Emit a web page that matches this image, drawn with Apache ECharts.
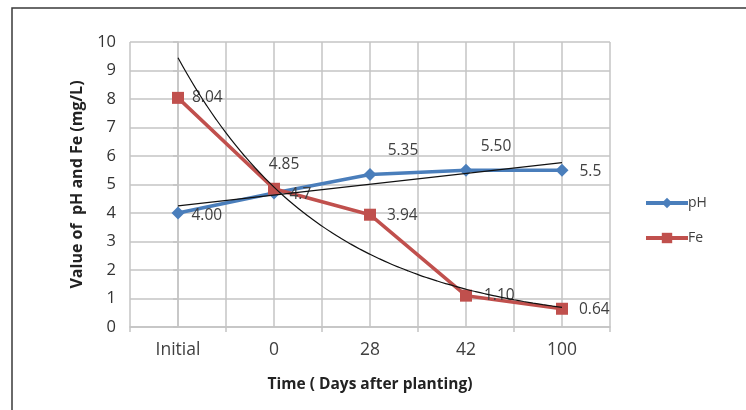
<!DOCTYPE html>
<html>
<head>
<meta charset="utf-8">
<script src="https://cdn.jsdelivr.net/npm/echarts@6/dist/echarts.min.js"></script>
<style>html,body{margin:0;padding:0;background:#fff}#c{width:746px;height:410px}</style>
</head>
<body>
<div id="c"></div>
<script>
const categories = ['Initial', '0', '28', '42', '100'];
const phValues = [4.00, 4.7, 5.35, 5.50, 5.5];
const feValues = [8.04, 4.85, 3.94, 1.10, 0.64];
const phLabels = ['4.00', '4.7', '5.35', '5.50', '5.5'];
const feLabels = ['8.04', '4.85', '3.94', '1.10', '0.64'];
const yTicks = [0, 1, 2, 3, 4, 5, 6, 7, 8, 9, 10];

// Excel-style trendlines fitted to the data: linear for pH, exponential for Fe
function linearFit(vals) {
  const n = vals.length, xs = vals.map((_, i) => i + 1);
  const mx = xs.reduce((a, b) => a + b) / n, my = vals.reduce((a, b) => a + b) / n;
  let sxy = 0, sxx = 0;
  xs.forEach((x, i) => { sxy += (x - mx) * (vals[i] - my); sxx += (x - mx) * (x - mx); });
  const b = sxy / sxx; return x => my + b * (x - mx);
}
function expFit(vals) {
  const f = linearFit(vals.map(Math.log)); return x => Math.exp(f(x));
}
const phFit = linearFit(phValues), feFit = expFit(feValues);
const phTrend = [[0, phFit(1)], [4, phFit(5)]];
const feTrend = [];
for (let k = 0; k <= 40; k++) { const t = k / 10; feTrend.push([t, feFit(t + 1)]); }

const labelColor = '#404040';
const font = '"Open Sans", sans-serif';
const gridColor = '#c4c4c4';

const phLabelCfg = [
  { position: 'right', distance: 7, offset: [0, 3] },
  { position: 'right', distance: 9, offset: [0, 2] },
  { position: 'top', distance: 9, offset: [33, 0] },
  { position: 'top', distance: 9, offset: [30, 0] },
  { position: 'right', distance: 11, offset: [0, 1] }
];
const feLabelCfg = [
  { position: 'right', distance: 8, offset: [0, 0] },
  { position: 'top', distance: 10, offset: [10, 0] },
  { position: 'right', distance: 11, offset: [0, 1] },
  { position: 'right', distance: 12, offset: [0, 0] },
  { position: 'right', distance: 11, offset: [0, 1] }
];

const chart = echarts.init(document.getElementById('c'), null, { renderer: 'canvas' });
chart.setOption({
  animation: false,
  backgroundColor: '#fff',
  textStyle: { fontFamily: font },
  graphic: [{
    type: 'rect', shape: { x: 12, y: 8, width: 800, height: 440 },
    style: { fill: 'none', stroke: '#3a3a3a', lineWidth: 1.5 }, silent: true
  }],
  grid: { left: 130, top: 42, width: 480, height: 285 },
  legend: {
    orient: 'vertical', left: 639, top: 191, itemGap: 21,
    itemWidth: 42, itemHeight: 13,
    data: [
      { name: 'pH', lineStyle: { width: 4 } },
      { name: 'Fe', lineStyle: { width: 4 } }
    ],
    textStyle: { fontSize: 14, color: '#404040', fontFamily: font, padding: [0, 0, 0, -5] }
  },
  xAxis: [{
    type: 'category', data: categories, boundaryGap: true,
    name: 'Time ( Days after planting)', nameLocation: 'middle', nameGap: 50,
    nameTextStyle: { fontSize: 15.5, fontWeight: 'bold', color: '#222', fontFamily: font },
    axisLine: { lineStyle: { color: gridColor, width: 1.5 } },
    axisTick: { show: true, length: 5, lineStyle: { color: gridColor, width: 1.5 } },
    axisLabel: { fontSize: 17.5, color: '#404040', margin: 14, fontFamily: font },
    splitLine: { show: false }
  }, {
    type: 'value', min: -0.5, max: 4.5, interval: 0.5, position: 'bottom',
    axisLine: { show: false }, axisTick: { show: false }, axisLabel: { show: false },
    splitLine: { show: true, lineStyle: { color: gridColor, width: 1.5 } }
  }],
  yAxis: {
    type: 'value', min: 0, max: 10, interval: 1,
    name: 'Value of  pH and Fe (mg/L)', nameLocation: 'middle', nameGap: 45,
    nameTextStyle: { fontSize: 16, fontWeight: 'bold', color: '#222', fontFamily: font },
    axisLine: { show: true, lineStyle: { color: gridColor, width: 1.5 } },
    axisTick: { show: true, length: 5, lineStyle: { color: gridColor, width: 1.5 } },
    axisLabel: { fontSize: 16.5, color: '#333', margin: 14, fontFamily: font,
      formatter: v => yTicks.includes(v) ? String(v) : '' },
    splitLine: { show: true, lineStyle: { color: gridColor, width: 1.5 } }
  },
  series: [{
    name: 'pH', type: 'line', xAxisIndex: 0,
    data: phValues.map((v, i) => ({ value: v, label: Object.assign({ formatter: phLabels[i] }, phLabelCfg[i]) })),
    symbol: 'diamond', symbolSize: 13,
    lineStyle: { color: '#4a7ebb', width: 3.5 },
    itemStyle: { color: '#4a7ebb' },
    label: { show: true, fontSize: 15.5, color: labelColor, fontFamily: font },
    z: 3
  }, {
    name: 'Fe', type: 'line', xAxisIndex: 0,
    data: feValues.map((v, i) => ({ value: v, label: Object.assign({ formatter: feLabels[i] }, feLabelCfg[i]) })),
    symbol: 'rect', symbolSize: 12,
    lineStyle: { color: '#c0504d', width: 3.5 },
    itemStyle: { color: '#c0504d' },
    label: { show: true, fontSize: 15.5, color: labelColor, fontFamily: font },
    z: 3
  }, {
    name: 'pH trend', type: 'line', xAxisIndex: 1, data: phTrend,
    showSymbol: false, symbol: 'none', lineStyle: { color: '#111', width: 1.2 }, z: 4, silent: true
  }, {
    name: 'Fe trend', type: 'line', xAxisIndex: 1, data: feTrend, smooth: true,
    showSymbol: false, symbol: 'none', lineStyle: { color: '#111', width: 1.2 }, z: 4, silent: true
  }]
});
</script>
</body>
</html>
